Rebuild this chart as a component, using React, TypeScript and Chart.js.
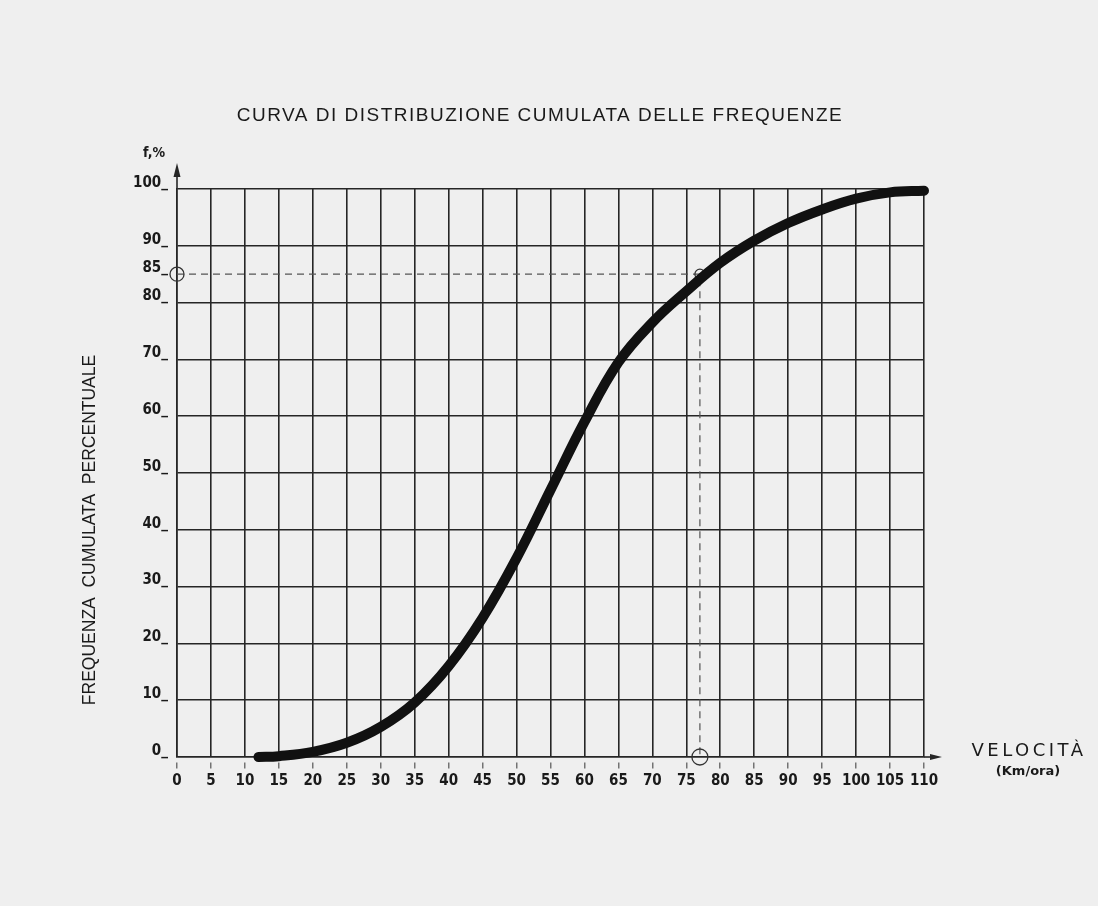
import React, { useEffect, useRef } from "react";
import { Chart, registerables } from "chart.js";

Chart.register(...registerables);

const TITLE = "CURVA DI DISTRIBUZIONE CUMULATA DELLE FREQUENZE";
const Y_TITLE = "FREQUENZA  CUMULATA  PERCENTUALE";
const X_TITLE = "VELOCITÀ";
const X_UNIT = "(Km/ora)";
const Y_UNIT = "f,%";

const speeds = [12, 15, 20, 25, 30, 35, 40, 45, 50, 55, 60, 65, 70, 75, 80, 85, 90, 95, 100, 105, 110];
const cumulative = [0, 0.15, 0.9, 2.5, 5.3, 9.6, 16, 24.5, 35, 47, 59, 69.5, 76.5, 82, 87, 90.9, 94, 96.4, 98.3, 99.4, 99.7];

const refX = [0, 77, 77];
const refY = [85, 85, 0];

const yTickValues = [0, 10, 20, 30, 40, 50, 60, 70, 80, 85, 90, 100];

const INK = "#262626";
const PAPER = "#efefef";

const overlay = {
  id: "overlay",
  beforeDraw(chart: any) {
    const ctx = chart.ctx;
    ctx.save();
    ctx.fillStyle = PAPER;
    ctx.fillRect(0, 0, chart.width, chart.height);
    ctx.restore();
  },
  afterDraw(chart: any) {
    const ctx = chart.ctx;
    const xs = chart.scales.x;
    const ys = chart.scales.y;
    const x0 = xs.getPixelForValue(0);
    const xEnd = xs.getPixelForValue(110);
    const y0 = ys.getPixelForValue(0);
    const yTop = ys.getPixelForValue(100);
    ctx.save();
    ctx.strokeStyle = INK;
    ctx.fillStyle = INK;
    ctx.lineWidth = 1.6;
    // y axis arrow
    ctx.beginPath();
    ctx.moveTo(x0, yTop);
    ctx.lineTo(x0, yTop - 18);
    ctx.stroke();
    ctx.beginPath();
    ctx.moveTo(x0, yTop - 26);
    ctx.lineTo(x0 - 3.5, yTop - 12);
    ctx.lineTo(x0 + 3.5, yTop - 12);
    ctx.closePath();
    ctx.fill();
    // x axis arrow
    ctx.beginPath();
    ctx.moveTo(xEnd, y0);
    ctx.lineTo(xEnd + 10, y0);
    ctx.stroke();
    ctx.beginPath();
    ctx.moveTo(xEnd + 18, y0);
    ctx.lineTo(xEnd + 6, y0 - 3);
    ctx.lineTo(xEnd + 6, y0 + 3);
    ctx.closePath();
    ctx.fill();

    // texts
    ctx.fillStyle = "#1a1a1a";
    ctx.textAlign = "center";
    ctx.textBaseline = "middle";
    ctx.font = '19px "Liberation Sans", Arial, sans-serif';
    (ctx as any).letterSpacing = "1.5px";
    ctx.fillText(TITLE, 540, 116);
    (ctx as any).letterSpacing = "0px";

    ctx.font = 'bold 14px "DejaVu Sans Condensed", sans-serif';
    ctx.fillText(Y_UNIT, x0 - 23, yTop - 36);

    ctx.save();
    ctx.translate(90, 530);
    ctx.rotate(-Math.PI / 2);
    ctx.font = '17.5px "Liberation Sans", Arial, sans-serif';
    ctx.fillText(Y_TITLE, 0, 0);
    ctx.restore();

    ctx.font = '18px "DejaVu Sans", sans-serif';
    (ctx as any).letterSpacing = "3.5px";
    ctx.fillText(X_TITLE, 1029, 751);
    (ctx as any).letterSpacing = "0px";
    ctx.font = 'bold 13px "DejaVu Sans", sans-serif';
    ctx.fillText(X_UNIT, 1028, 772);
    ctx.restore();
  },
};

export default function App() {
  const ref = useRef<HTMLCanvasElement | null>(null);
  useEffect(() => {
    if (!ref.current) return;
    const tickFont = { family: '"Liberation Sans Narrow", "DejaVu Sans Condensed", sans-serif', size: 15, weight: "bold" as any };
    const chart = new Chart(ref.current, {
      type: "line",
      data: {
        datasets: [
          {
            data: speeds.map((s, i) => ({ x: s, y: cumulative[i] })),
            borderColor: "#111",
            borderWidth: 10,
            pointRadius: 0,
            tension: 0.4,
            fill: false,
            clip: false as any,
            borderCapStyle: "round",
          },
          {
            data: refX.map((v, i) => ({ x: v, y: refY[i] })),
            borderColor: "#555",
            borderWidth: 1.2,
            borderDash: [7, 5],
            tension: 0,
            pointRadius: [7, 5, 8],
            pointBorderColor: "#333",
            pointBorderWidth: 1.3,
            pointBackgroundColor: "rgba(0,0,0,0)",
            fill: false,
            clip: false as any,
          },
        ],
      },
      options: {
        responsive: false,
        animation: false,
        layout: { padding: { left: 117, right: 174, top: 189, bottom: 99 } },
        plugins: { legend: { display: false }, tooltip: { enabled: false }, title: { display: false } },
        scales: {
          x: {
            type: "linear",
            min: 0,
            max: 110,
            afterFit: (s: any) => { s.height = 50; },
            ticks: { stepSize: 5, autoSkip: false, maxRotation: 0, color: "#1a1a1a", font: tickFont, padding: 2 },
            grid: { color: INK, lineWidth: 1.6, tickLength: 13, tickColor: "#555", tickWidth: 1.2, tickBorderDash: [0, 5, 6, 40] } as any,
            border: { color: INK, width: 1.6 },
          },
          y: {
            type: "linear",
            min: 0,
            max: 100,
            afterFit: (s: any) => { s.width = 60; },
            afterBuildTicks: (s: any) => { s.ticks = yTickValues.map((v) => ({ value: v })); },
            ticks: { color: "#1a1a1a", font: tickFont, padding: 9, labelOffset: -6, callback: (v: any) => v + "_" },
            grid: {
              drawTicks: false,
              lineWidth: 1.6,
              color: (c: any) => (c.tick && c.tick.value === 85 ? "rgba(0,0,0,0)" : INK),
            },
            border: { color: INK, width: 1.6 },
          },
        },
      },
      plugins: [overlay],
    });
    return () => chart.destroy();
  }, []);
  return (
    <div style={{ position: "absolute", left: 0, top: 0, width: 1098, height: 906, background: PAPER }}>
      <canvas ref={ref} width={1098} height={906} />
    </div>
  );
}
